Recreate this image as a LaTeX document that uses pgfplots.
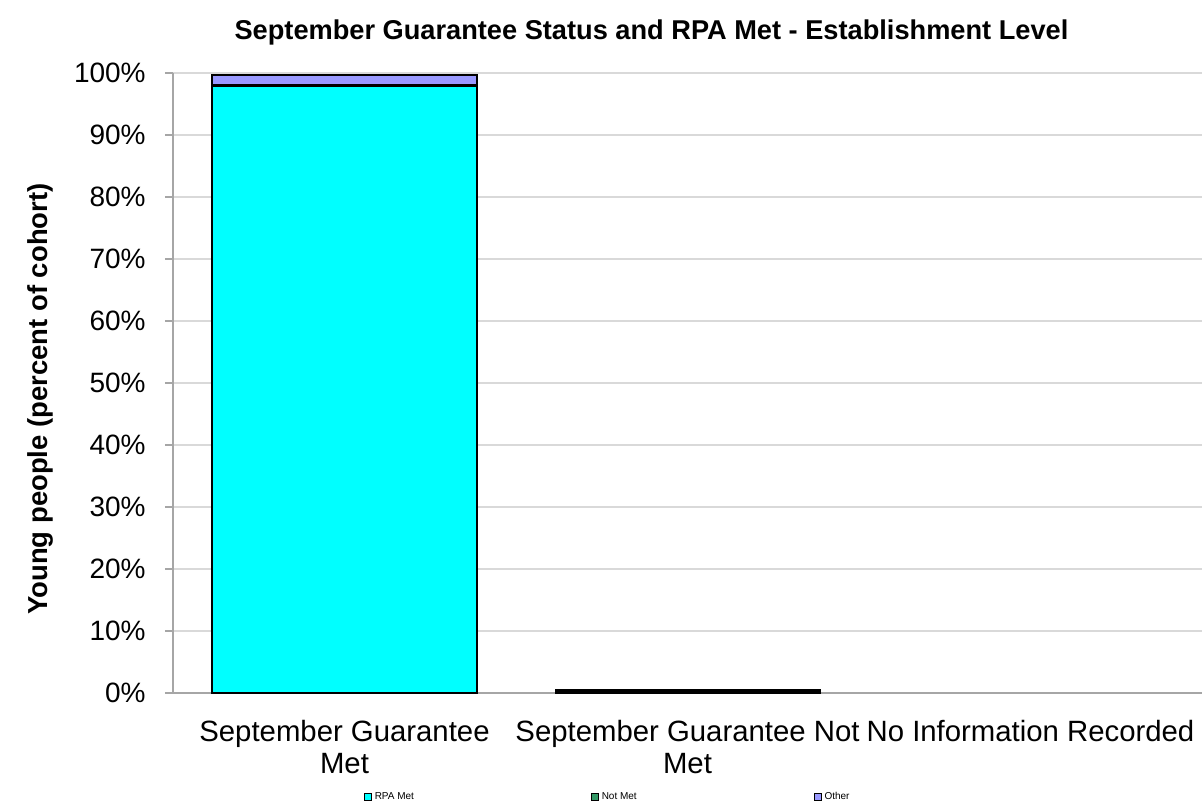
\documentclass[border=0pt]{standalone}
\usepackage{pgfplots}
\pgfplotsset{compat=1.18}
\usepackage{fontspec}
\setmainfont{Liberation Sans}
\definecolor{rpa}{HTML}{00FFFF}
\definecolor{notmet}{HTML}{339966}
\definecolor{other}{HTML}{9999FF}
\definecolor{gridc}{HTML}{D9D9D9}
\definecolor{axc}{HTML}{A6A6A6}
\begin{document}
\begin{tikzpicture}[x=0.75pt,y=0.75pt]
\path[use as bounding box] (-173,-114) rectangle (1030,693);
\begin{axis}[
  at={(0,0)}, anchor=south west,
  scale only axis,
  width=771.75pt, height=465pt,
  ybar stacked,
  bar width=198pt,
  xmin=-0.5, xmax=2.5,
  ymin=0, ymax=100,
  xtick={0,1,2},
  xticklabels={{September Guarantee\\Met},{September Guarantee Not\\Met},{No Information Recorded}},
  xticklabel style={align=center, font=\fontsize{22}{24}\selectfont, yshift=-11pt},
  x tick style={draw=none},
  ytick={0,10,...,100},
  yticklabel={\pgfmathprintnumber{\tick}\%},
  yticklabel style={font=\fontsize{21}{24}\selectfont, xshift=-11pt},
  /pgf/number format/assume math mode=true,
  y tick style={draw=axc, line width=0.8pt},
  tick align=outside,
  major tick length=6pt,
  ymajorgrids,
  grid style={draw=gridc, line width=0.8pt},
  axis x line*=bottom,
  axis y line*=left,
  axis line style={draw=axc, line width=0.8pt, -},
  ylabel={\textbf{Young people (percent of cohort)}},
  ylabel style={font=\fontsize{20.6}{22}\selectfont, at={(axis description cs:-0.129,0.474)}, anchor=center, rotate=0},
  title={\textbf{September Guarantee Status and RPA Met - Establishment Level}},
  title style={font=\fontsize{20.4}{22}\selectfont, at={(axis description cs:0.465,1)}, yshift=11pt},
  legend columns=3,
  legend style={at={(0.423,-0.168)}, anchor=center, draw=none, fill=none,
    font=\fontsize{7.5}{8}\selectfont,
    /tikz/every even column/.append style={column sep=131pt}},
  legend image code/.code={\draw[#1, line width=0.8pt] (0pt,-2.5pt) rectangle (5pt,2.5pt);},
  every axis plot/.append style={draw=black, line width=1.5pt},
]
\addplot[fill=rpa] coordinates {(0,97.9) (1,0.1) (2,0)};
\addplot[fill=notmet] coordinates {(0,0.1) (1,0.3) (2,0)};
\addplot[fill=other] coordinates {(0,1.7) (1,0.1) (2,0)};
\legend{RPA Met, Not Met, Other}
\end{axis}
\end{tikzpicture}
\end{document}
